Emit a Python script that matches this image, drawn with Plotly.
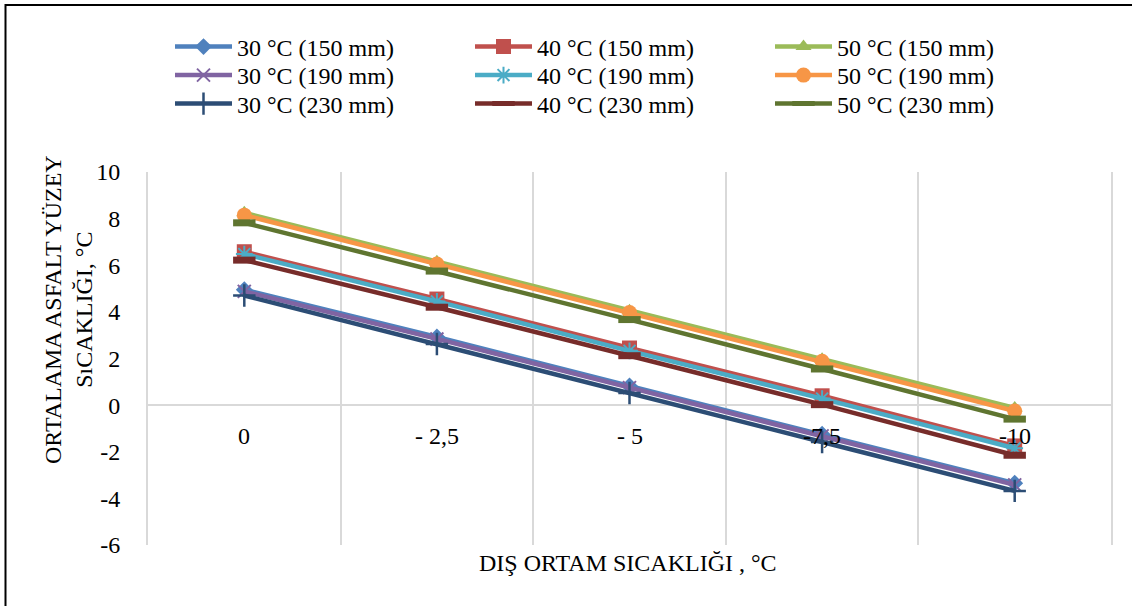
import plotly.graph_objects as go

categories = ["0", "- 2,5", "- 5", "-7,5", "-10"]

series_names = [
    "30 °C (150 mm)", "40 °C (150 mm)", "50 °C (150 mm)",
    "30 °C (190 mm)", "40 °C (190 mm)", "50 °C (190 mm)",
    "30 °C (230 mm)", "40 °C (230 mm)", "50 °C (230 mm)",
]

t30_150 = [4.95, 2.92, 0.82, -1.25, -3.35]
t40_150 = [6.58, 4.55, 2.45, 0.40, -1.75]
t50_150 = [8.25, 6.15, 4.05, 1.97, -0.12]
t30_190 = [4.88, 2.84, 0.75, -1.32, -3.42]
t40_190 = [6.48, 4.45, 2.33, 0.28, -1.85]
t50_190 = [8.15, 6.05, 3.97, 1.88, -0.25]
t30_230 = [4.70, 2.62, 0.52, -1.58, -3.68]
t40_230 = [6.22, 4.20, 2.12, 0.02, -2.15]
t50_230 = [7.82, 5.75, 3.67, 1.55, -0.60]

values = [t30_150, t40_150, t50_150, t30_190, t40_190, t50_190, t30_230, t40_230, t50_230]

y_tickvals = [-6, -4, -2, 0, 2, 4, 6, 8, 10]
y_ticktext = ["-6", "-4", "-2", "0", "2", "4", "6", "8", "10"]

colors = ["#4F81BD", "#C0504D", "#9BBB59", "#8064A2", "#4BACC6", "#F79646",
          "#2C4D75", "#772C2A", "#5F7530"]
markers = [
    dict(symbol="diamond", size=13),
    dict(symbol="square", size=15),
    dict(symbol="triangle-up", size=14),
    dict(symbol="x-thin", size=13, line=dict(width=2)),
    dict(symbol="asterisk", size=14, line=dict(width=2)),
    dict(symbol="circle", size=15),
    dict(symbol="cross-thin", size=16, line=dict(width=2.5)),
    dict(symbol="line-ew", size=16, line=dict(width=7)),
    dict(symbol="line-ew", size=16, line=dict(width=7)),
]

FONT = "Liberation Serif, Times New Roman, serif"
W, H = 1132, 606
L, R, T, B = 148, 1111, 172, 545


def px(x):
    return (x - L) / (R - L)


def py(y):
    return (B - y) / (B - T)


legend_ids = ["legend", "legend2", "legend3"]
row_centers = [47, 75.5, 104]

fig = go.Figure()
for i, (name, vals, col, mk) in enumerate(zip(series_names, values, colors, markers)):
    m = dict(mk)
    m["color"] = col
    if "line" in m:
        m["line"] = dict(m["line"], color=col)
    fig.add_trace(go.Scatter(
        x=categories, y=vals, name=name, mode="lines+markers",
        line=dict(color=col, width=4.5), marker=m,
        legend=legend_ids[i // 3],
    ))

annotations = []
for i, c in enumerate(categories):
    annotations.append(dict(x=i, y=0, xref="x", yref="y", text=c, showarrow=False,
                            yshift=-31, font=dict(family=FONT, size=24, color="black")))
annotations.append(dict(x=px(628), y=py(563), xref="paper", yref="paper",
                        xanchor="center", yanchor="middle",
                        text="DIŞ ORTAM SICAKLIĞI , °C", showarrow=False,
                        font=dict(family=FONT, size=24, color="black")))
annotations.append(dict(x=px(68), y=py(310), xref="paper", yref="paper",
                        xanchor="center", yanchor="middle",
                        text="ORTALAMA ASFALT YÜZEY<br>SıCAKLIĞI, °C", textangle=-90,
                        showarrow=False,
                        font=dict(family=FONT, size=24, color="black")))

legend_common = dict(
    orientation="h", xref="container", yref="container",
    x=170 / W, xanchor="left", yanchor="middle",
    entrywidth=228, entrywidthmode="pixels",
    itemwidth=57, font=dict(family=FONT, size=24, color="black"),
    bgcolor="rgba(0,0,0,0)",
)

fig.update_layout(
    width=W, height=H,
    margin=dict(l=L, r=W - R, t=T, b=H - B, pad=0),
    paper_bgcolor="white", plot_bgcolor="white",
    font=dict(family=FONT, size=24, color="black"),
    showlegend=True,
    legend=dict(legend_common, y=1 - row_centers[0] / H),
    legend2=dict(legend_common, y=1 - row_centers[1] / H),
    legend3=dict(legend_common, y=1 - row_centers[2] / H),
    xaxis=dict(
        type="category", range=[-0.5, len(categories) - 0.5],
        tickson="boundaries", showgrid=True, gridcolor="#D9D9D9", gridwidth=2,
        showticklabels=False, ticks="", zeroline=False, showline=False,
        fixedrange=True,
    ),
    yaxis=dict(
        range=[-6, 10], tickvals=y_tickvals, ticktext=y_ticktext,
        showgrid=False, zeroline=True,
        zerolinecolor="#D9D9D9", zerolinewidth=2,
        showline=True, linecolor="#D9D9D9", linewidth=2, mirror=True,
        ticks="", ticklabelstandoff=21,
        tickfont=dict(family=FONT, size=24, color="black"),
    ),
    annotations=annotations,
    shapes=[
        dict(type="path", xref="paper", yref="paper",
             path=f"M {px(1145)},{py(5)} L {px(5.5)},{py(5)} L {px(5.5)},{py(620)}",
             line=dict(color="black", width=2)),
    ],
)

fig.write_html("out.html")
